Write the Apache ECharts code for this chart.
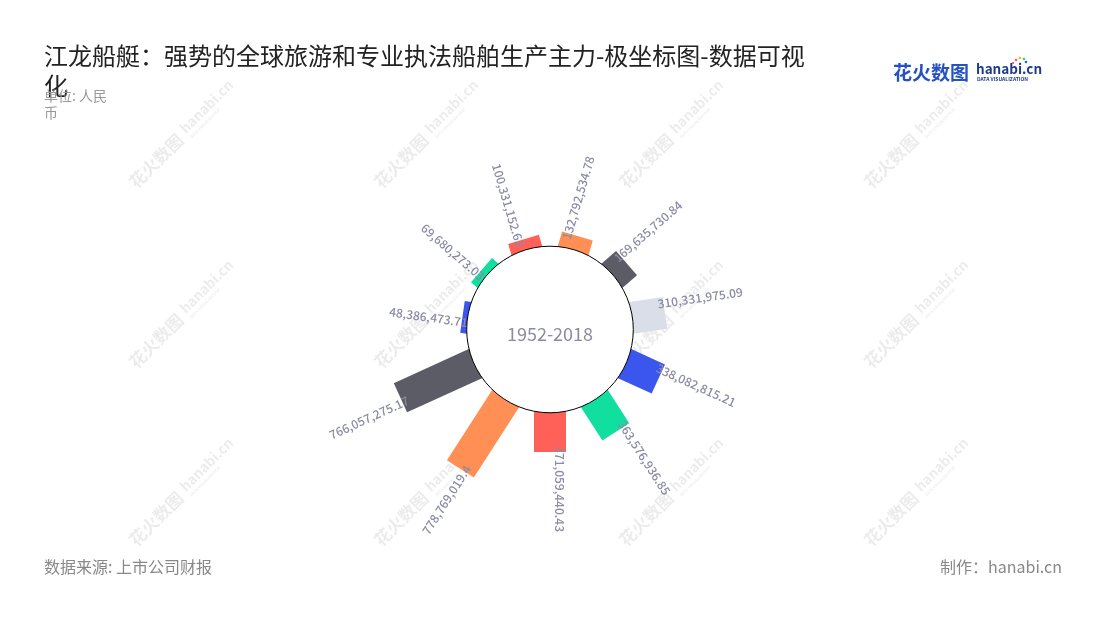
<!DOCTYPE html>
<html>
<head>
<meta charset="utf-8">
<script src="https://cdn.jsdelivr.net/npm/echarts@6/dist/echarts.min.js"></script>
<style>
html,body{margin:0;padding:0;background:#ffffff;}
#main{width:1100px;height:620px;}
</style>
</head>
<body>
<div id="main"></div>
<script>
// ---------- data ----------
const categories = ['1', '2', '3', '4', '5', '6', '7', '8', '9', '10', '11'];
const values = [
  132792534.78, 169635730.84, 310331975.09, 338082815.21, 363576936.85,
  371059440.43, 778769019.40, 766057275.17, 48386473.71, 69680273.03, 100331152.62
];
const radiusMax = 800000000;
const titleText = '江龙船艇：强势的全球旅游和专业执法船舶生产主力-极坐标图-数据可视化';
const unitText = '单位: 人民币';
const centerText = '1952-2018';
const sourceText = '数据来源: 上市公司财报';
const creditText = '制作：hanabi.cn';

// ---------- styles ----------
const barColors = ['#FF8F55', '#5B5C66', '#D9DEE9', '#3A56EC', '#10DFA0', '#FF6057',
                   '#FF8F55', '#5B5C66', '#3A56EC', '#10DFA0', '#FF6057'];
const labelColor = '#8A8CA3';
const FONT = '"Noto Sans CJK SC", "Noto Sans", sans-serif';
const fmt = v => v.toLocaleString('en-US', { maximumFractionDigits: 2 });

function geom(params, api) {
  const v = api.value(0), idx = api.value(1);
  const cs = params.coordSys;
  const pIn = api.coord([0, idx]);
  const pOut = api.coord([v, idx]);
  const dx = pIn[0] - cs.cx, dy = pIn[1] - cs.cy;
  const len = Math.hypot(dx, dy);
  const ux = dx / len, uy = dy / len;
  const nx = uy, ny = -ux; // counter-clockwise tangent
  return { pIn, pOut, ux, uy, nx, ny };
}

function renderBar(params, api) {
  const g = geom(params, api);
  const hw = 16, inset = 3;
  const a = [g.pIn[0] - g.ux * inset, g.pIn[1] - g.uy * inset];
  const b = g.pOut;
  const pts = [
    [a[0] + g.nx * hw, a[1] + g.ny * hw],
    [b[0] + g.nx * hw, b[1] + g.ny * hw],
    [b[0] - g.nx * hw, b[1] - g.ny * hw],
    [a[0] - g.nx * hw, a[1] - g.ny * hw]
  ];
  return { type: 'polygon', shape: { points: pts }, style: { fill: barColors[params.dataIndex] } };
}

function renderLabel(params, api) {
  const g = geom(params, api);
  const right = g.ux > -1e-6;
  const off = right ? 10 : 5;
  const back = 6;
  const x = g.pOut[0] - g.ux * back + g.nx * off;
  const y = g.pOut[1] - g.uy * back + g.ny * off;
  const rot = right ? Math.atan2(-g.uy, g.ux) : Math.atan2(g.uy, -g.ux);
  return {
    type: 'text', x: x, y: y, rotation: rot,
    style: {
      text: fmt(values[params.dataIndex]), fill: labelColor,
      font: '500 12px ' + FONT, align: right ? 'left' : 'right', verticalAlign: 'middle'
    }
  };
}

// watermarks
const wmElements = [];
const wmXs = [132, 377, 622, 867];
const wmYs = [185, 365, 543];
wmXs.forEach(x => wmYs.forEach(y => {
  wmElements.push({
    type: 'group', x: x, y: y, rotation: Math.PI / 4, z: 20, silent: true,
    children: [
      { type: 'text', x: 0, y: 0, style: { text: '花火数图', font: 'bold 17px ' + FONT, fill: 'rgba(0,0,0,0.08)', verticalAlign: 'middle' } },
      { type: 'text', x: 74, y: -3, style: { text: 'hanabi.cn', font: 'bold 14px ' + FONT, fill: 'rgba(0,0,0,0.08)', verticalAlign: 'middle' } },
      { type: 'text', x: 75, y: 8, style: { text: 'DATA VISUALIZATION', font: 'bold 4px ' + FONT, fill: 'rgba(0,0,0,0.08)', verticalAlign: 'middle' } }
    ]
  });
}));

const chart = echarts.init(document.getElementById('main'), null, { renderer: 'canvas' });
chart.setOption({
  backgroundColor: '#ffffff',
  animation: false,
  title: [
    {
      text: titleText, left: 44, top: 41, padding: 0,
      textStyle: { fontSize: 24, fontWeight: 'normal', color: '#222222', fontFamily: FONT,
                   lineHeight: 30, width: 770, overflow: 'break' }
    },
    {
      text: unitText, left: 44, top: 87, padding: 0,
      textStyle: { fontSize: 14, fontWeight: 'normal', color: '#999999', fontFamily: FONT,
                   lineHeight: 17, width: 76, overflow: 'break' }
    },
    {
      text: sourceText, left: 44, top: 557, padding: 0,
      textStyle: { fontSize: 16, fontWeight: 'normal', color: '#888888', fontFamily: FONT, lineHeight: 20 }
    },
    {
      text: creditText, right: 38, top: 557, padding: 0,
      textStyle: { fontSize: 16, fontWeight: 'normal', color: '#888888', fontFamily: FONT, lineHeight: 20 }
    }
  ],
  polar: { center: [550, 329.5], radius: [83.3, 168] },
  angleAxis: {
    type: 'category', data: categories, startAngle: 90, clockwise: true,
    axisLine: { show: false }, axisTick: { show: false }, axisLabel: { show: false }, splitLine: { show: false }
  },
  radiusAxis: {
    type: 'value', min: 0, max: radiusMax,
    axisLine: { show: false }, axisTick: { show: false }, axisLabel: { show: false }, splitLine: { show: false }
  },
  series: [
    {
      type: 'custom', coordinateSystem: 'polar', z: 2, silent: true,
      data: values.map((v, i) => [v, i]),
      renderItem: renderBar
    },
    {
      type: 'custom', coordinateSystem: 'polar', z: 6, silent: true,
      data: values.map((v, i) => [v, i]),
      renderItem: renderLabel
    }
  ],
  graphic: { elements: [
    { type: 'circle', z: 4, silent: true, shape: { cx: 550, cy: 329.5, r: 83.3 },
      style: { fill: '#ffffff', stroke: '#000000', lineWidth: 1 } },
    { type: 'text', z: 7, x: 550, y: 334, silent: true,
      style: { text: centerText, font: '18px ' + FONT, fill: labelColor, align: 'center', verticalAlign: 'middle' } },
    // logo
    { type: 'text', z: 7, x: 893, y: 73, silent: true,
      style: { text: '花火数图', font: 'bold 19px ' + FONT, fill: '#2552C0', verticalAlign: 'middle' } },
    { type: 'text', z: 7, x: 976, y: 69, silent: true,
      style: { text: 'hanabi.cn', font: 'bold 13.5px ' + FONT, fill: '#1E3C8C', verticalAlign: 'middle' } },
    { type: 'text', z: 7, x: 977, y: 79, silent: true,
      style: { text: 'DATA VISUALIZATION', font: 'bold 5px ' + FONT, fill: '#1E3C8C', verticalAlign: 'middle' } },
    { type: 'circle', z: 7, silent: true, shape: { cx: 1016, cy: 60, r: 1.3 }, style: { fill: '#FF6057' } },
    { type: 'circle', z: 7, silent: true, shape: { cx: 1020, cy: 58, r: 1.3 }, style: { fill: '#FFB400' } },
    { type: 'circle', z: 7, silent: true, shape: { cx: 1024, cy: 59, r: 1.3 }, style: { fill: '#10DFA0' } },
    { type: 'circle', z: 7, silent: true, shape: { cx: 1026, cy: 62, r: 1.3 }, style: { fill: '#3A56EC' } },
    { type: 'circle', z: 7, silent: true, shape: { cx: 1013, cy: 63, r: 1.1 }, style: { fill: '#B04CE0' } }
  ].concat(wmElements) }
});
</script>
</body>
</html>
